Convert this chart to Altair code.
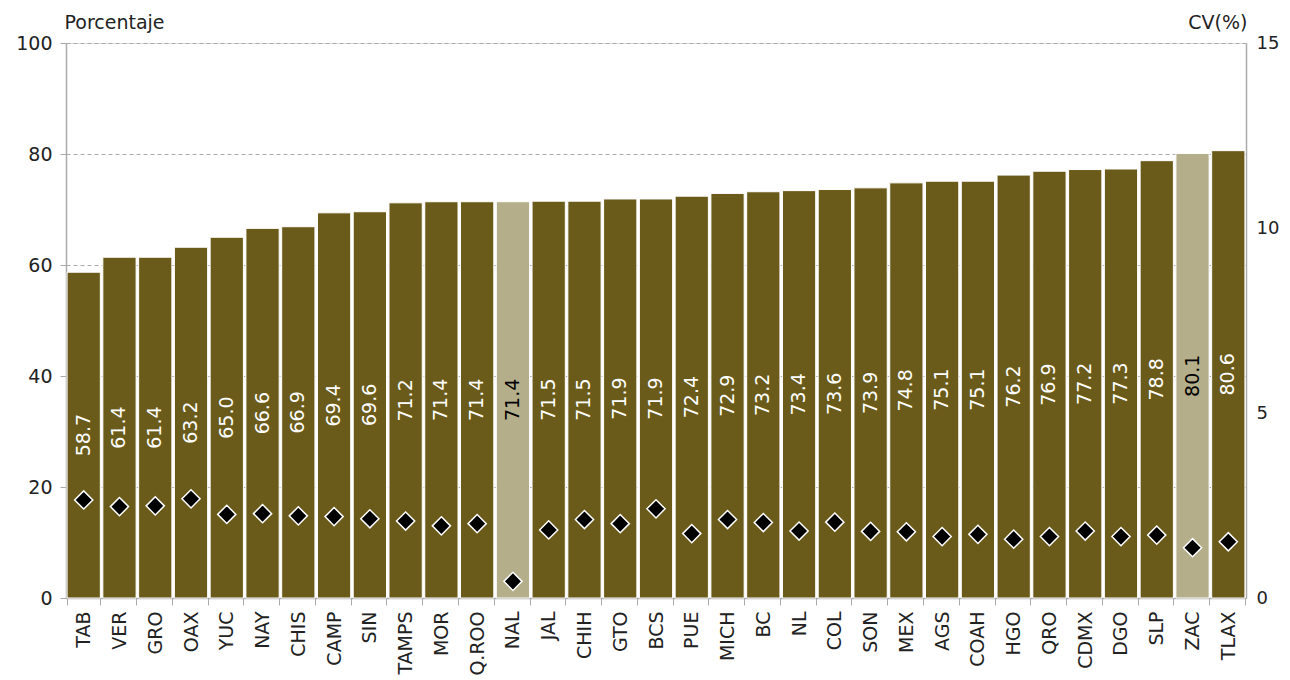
import altair as alt
import pandas as pd

states = ["TAB", "VER", "GRO", "OAX", "YUC", "NAY", "CHIS", "CAMP", "SIN", "TAMPS",
          "MOR", "Q.ROO", "NAL", "JAL", "CHIH", "GTO", "BCS", "PUE", "MICH", "BC",
          "NL", "COL", "SON", "MEX", "AGS", "COAH", "HGO", "QRO", "CDMX", "DGO",
          "SLP", "ZAC", "TLAX"]
pct = [58.7, 61.4, 61.4, 63.2, 65.0, 66.6, 66.9, 69.4, 69.6, 71.2,
       71.4, 71.4, 71.4, 71.5, 71.5, 71.9, 71.9, 72.4, 72.9, 73.2,
       73.4, 73.6, 73.9, 74.8, 75.1, 75.1, 76.2, 76.9, 77.2, 77.3,
       78.8, 80.1, 80.6]
cv = [2.65, 2.47, 2.49, 2.68, 2.26, 2.28, 2.22, 2.20, 2.14, 2.08,
      1.95, 2.01, 0.45, 1.84, 2.12, 2.01, 2.41, 1.74, 2.12, 2.04,
      1.81, 2.05, 1.80, 1.79, 1.66, 1.72, 1.59, 1.66, 1.81, 1.66,
      1.70, 1.36, 1.52]
highlight = ["NAL", "ZAC"]

df = pd.DataFrame({"estado": states, "pct": pct, "cv": cv})
df["grupo"] = ["destacado" if s in highlight else "normal" for s in states]

FONT = "DejaVu Sans"

x = alt.X("estado:N", sort=states, title=None,
          scale=alt.Scale(paddingInner=0.07, paddingOuter=0.03),
          axis=alt.Axis(labelAngle=-90, labelFontSize=19, labelColor="#222", labelFont=FONT,
                        tickBand="extent", tickSize=7, tickColor="#aaa",
                        domainColor="#aaa", domainWidth=1.5, labelPadding=6))

left_axis = alt.Axis(values=[0, 20, 40, 60, 80, 100], title="Porcentaje",
                     titleAngle=0, titleX=-2, titleY=-21, titleAlign="left",
                     titleBaseline="middle", titleFontSize=19, titleFontWeight="normal",
                     titleFont=FONT, labelFont=FONT,
                     titleColor="#222", labelFontSize=19, labelColor="#222",
                     tickSize=6, tickColor="#aaa", domainColor="#aaa", domainWidth=1.5,
                     labelPadding=8, grid=True, gridDash=[4, 3], gridColor="#aaa")

bars = alt.Chart(df).mark_bar(stroke="white", strokeWidth=1).encode(
    x=x,
    y=alt.Y("pct:Q", scale=alt.Scale(domain=[0, 100]), axis=left_axis),
    color=alt.Color("grupo:N", scale=alt.Scale(domain=["normal", "destacado"],
                                                range=["#6B5B1A", "#B5AE8A"]), legend=None),
)

labels = alt.Chart(df).transform_calculate(mid="datum.pct / 2").mark_text(
    angle=270, fontSize=19, font=FONT, align="center", baseline="middle"
).encode(
    x=alt.X("estado:N", sort=states),
    y=alt.Y("mid:Q", scale=alt.Scale(domain=[0, 100]), axis=left_axis),
    text=alt.Text("pct:Q", format=".1f"),
    color=alt.Color("grupo:N", scale=alt.Scale(domain=["normal", "destacado"],
                                                range=["white", "black"]), legend=None),
)

left = alt.layer(bars, labels).resolve_scale(color="independent")

points = alt.Chart(df).mark_point(shape="diamond", filled=True, size=330,
                                  fill="black", stroke="white", strokeWidth=1.5,
                                  opacity=1).encode(
    x=alt.X("estado:N", sort=states),
    y=alt.Y("cv:Q", scale=alt.Scale(domain=[0, 15]),
            axis=alt.Axis(orient="right", values=[0, 5, 10, 15], title="CV(%)",
                          titleAngle=0, titleX=1, titleY=-21, titleAlign="right",
                          titleBaseline="middle", titleFontSize=19, titleFontWeight="normal",
                          titleFont=FONT, labelFont=FONT,
                          titleColor="#222", labelFontSize=18, labelColor="#222",
                          ticks=False, domainColor="#aaa", domainWidth=1.5,
                          labelPadding=10, grid=False)),
)

chart = alt.layer(left, points).resolve_scale(y="independent").properties(
    width=1180, height=555,
    autosize=alt.AutoSizeParams(type="none"),
    padding={"left": 58, "top": 35, "right": 36, "bottom": 79},
).configure_view(strokeWidth=0, stroke="transparent").configure(font=FONT)

chart.save("out.html", embed_options={"renderer": "svg", "actions": False})
